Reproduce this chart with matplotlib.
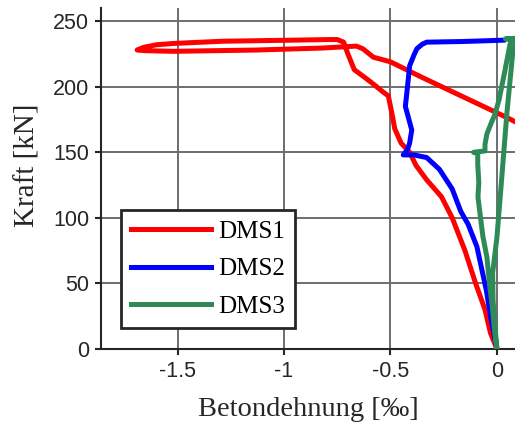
import matplotlib
matplotlib.use("Agg")
import matplotlib.pyplot as plt

# strain [permille] vs. force [kN]
dms1_x = [0, -0.03, -0.056, -0.10, -0.15, -0.21, -0.26, -0.33, -0.38, -0.41, -0.45,
          -0.48, -0.49, -0.51, -0.535, -0.58, -0.62, -0.67, -0.70, -0.72, -0.75, -0.78,
          -0.97, -1.29, -1.52, -1.60, -1.66, -1.69, -1.65, -1.52, -1.13, -0.82,
          -0.66, -0.63, -0.58, -0.50, -0.35, 0.047, 0.15]
dms1_y = [0, 12, 30, 50, 75, 100, 116, 129, 140, 150, 157,
          168, 177, 193, 196, 202, 207, 213, 225, 234, 236, 236,
          235.5, 234.7, 233, 232, 230, 228, 227.5, 227, 228, 229.5,
          231, 229, 222.5, 219, 207, 176.5, 168]

dms2_x = [0, -0.03, -0.05, -0.094, -0.135, -0.17, -0.21, -0.27, -0.33, -0.39, -0.44,
          -0.42, -0.41, -0.40, -0.43, -0.42, -0.41, -0.39, -0.376, -0.35, -0.33, -0.16, 0.03]
dms2_y = [0, 25, 45, 78, 95, 105, 122, 137, 146, 148, 148,
          152, 157, 167, 185, 200, 216, 224, 229, 232.5, 234, 234.5, 235.5]

dms3_x = [0, -0.012, -0.022, -0.033, -0.047, -0.066, -0.08, -0.089, -0.085, -0.09,
          -0.09, -0.11, -0.056, -0.056, -0.047, -0.025, -0.009, 0.01, 0.035, 0.061,
          0.07, 0.04, 0.09, 0.10, 0.075, 0.047, 0.02, 0.0, -0.02, -0.018, -0.008, 0]
dms3_y = [0, 15, 33, 47, 70, 86, 104, 116, 127, 141,
          149, 150, 151, 156, 164, 173, 179, 190, 210, 232,
          236, 236.5, 237, 238, 227, 180, 125, 85, 58, 37, 15, 0]

labels = ["DMS1", "DMS2", "DMS3"]
colors = ["#ff0000", "#0000ff", "#2e8b57"]

x_ticks = [-1.5, -1, -0.5, 0]
x_ticklabels = ["-1.5", "-1", "-0.5", "0"]
y_ticks = [0, 50, 100, 150, 200, 250]

fig = plt.figure(figsize=(5.15, 4.25), dpi=100)
ax = fig.add_axes([0.196, 0.179, 0.804, 0.802])

for xs, ys, lab, col in zip([dms1_x, dms2_x, dms3_x], [dms1_y, dms2_y, dms3_y], labels, colors):
    ax.plot(xs, ys, color=col, lw=3.6, label=lab, solid_joinstyle="round", zorder=3)

ax.set_xlim(-1.86, 0.085)
ax.set_ylim(0, 260)
ax.set_xticks(x_ticks)
ax.set_xticklabels(x_ticklabels)
ax.set_yticks(y_ticks)

ax.grid(True, color="#6e6e6e", lw=1.4, zorder=0)
ax.set_axisbelow(True)
for side in ["top", "right"]:
    ax.spines[side].set_visible(False)
for side in ["left", "bottom"]:
    ax.spines[side].set_linewidth(1.5)
    ax.spines[side].set_color("#262626")

ax.tick_params(direction="out", length=4.5, width=1.5, color="#262626",
               labelsize=15.5, labelcolor="#262626", pad=4)
for lbl in ax.get_xticklabels() + ax.get_yticklabels():
    lbl.set_family("Liberation Sans")

ax.set_xlabel("Betondehnung [‰]", family="Liberation Serif", fontsize=20.5, color="#262626")
ax.set_ylabel("Kraft [kN]", family="Liberation Serif", fontsize=21, color="#262626")
ax.xaxis.set_label_coords(0.5, -0.14)
ax.yaxis.set_label_coords(-0.147, 0.54)

leg = ax.legend(loc="lower left", bbox_to_anchor=(0.048, 0.062), borderaxespad=0,
                prop={"family": "Liberation Serif", "size": 18},
                handlelength=3.2, handletextpad=0.3, labelspacing=0.6, borderpad=0.4,
                fancybox=False, framealpha=1, edgecolor="#262626")
leg.get_frame().set_linewidth(2)
for line in leg.get_lines():
    line.set_linewidth(3.6)

fig.savefig("out.png", dpi=100)
